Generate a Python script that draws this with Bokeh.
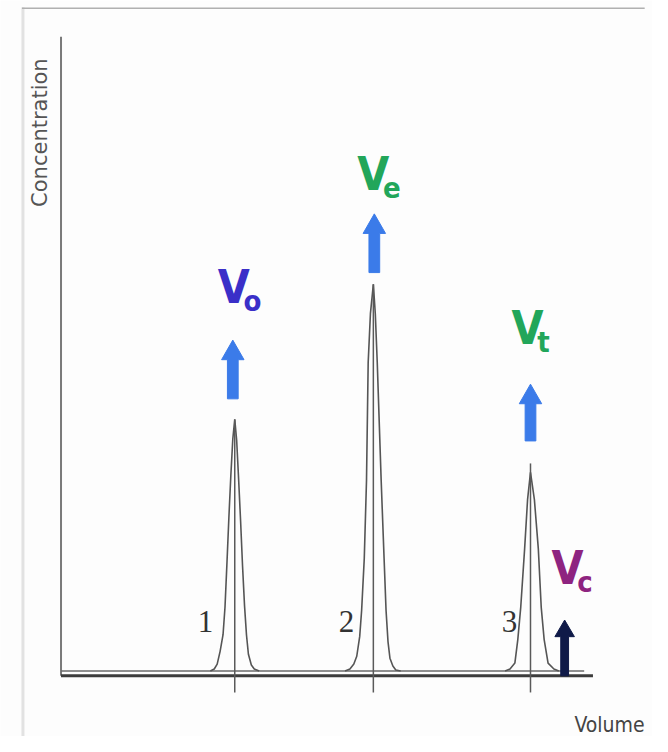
from bokeh.plotting import figure
from bokeh.models import Range1d
from bokeh.embed import file_html
from bokeh.resources import INLINE
from bokeh.core.properties import value

# ---------------- data (arbitrary units: volume, concentration) ----------------
axis_volume_max = 545
axis_conc_max = 653
baseline_level = 5
baseline_end = 536

peak_labels = ["1", "2", "3"]
peak_volume = [178, 320, 481]
peak_height = [262, 400, 212]
peak_label_volume = [148, 292.5, 459.5]
peak_label_conc = [55, 55, 55]

peak1_v = [153, 157, 160, 163, 166, 168, 170, 172, 174, 176, 178, 180, 182, 184, 186, 188, 190, 192, 195, 198, 203]
peak1_c = [5, 7, 12, 25, 42, 70, 115, 162, 205, 242, 262, 240, 200, 158, 112, 72, 42, 22, 11, 7, 5]

peak2_v = [291, 296, 300, 303, 306, 308, 310.7, 313, 314.7, 317, 320, 322, 324, 328, 331, 333, 335, 337, 340, 343, 348]
peak2_c = [5, 7, 12, 20, 40, 67, 120, 200, 320, 370, 400, 370, 320, 200, 120, 67, 35, 18, 10, 6, 5]

peak3_v = [455, 460, 465, 468, 471, 475, 478, 481, 485, 489, 492, 495, 499, 505, 510]
peak3_c = [5, 7, 13, 37, 70, 130, 180, 208, 180, 130, 70, 37, 13, 7, 5]

marker_bottom = -17
marker_top = [262, 400, 217]

arrow_volume = [176, 321, 481]
arrow_base = [283, 412, 240]
arrow_tip = [343, 472, 298]

vc_arrow_volume = 516
vc_arrow_base = 0
vc_arrow_tip = 57

label_main = ["V", "V", "V", "V"]
label_sub = ["o", "e", "t", "c"]
label_volume = [177, 320, 478, 519]
label_conc = [397, 513, 355, 110]
label_colors = ["#3a2fc8", "#22a65a", "#22a65a", "#8e2480"]

x_title = "Volume"
y_title = "Concentration"

NARROW = value("'Liberation Sans Narrow', 'DejaVu Sans Condensed', Roboto, sans-serif")

# ---------------- figure ----------------
p = figure(width=652, height=736, x_range=Range1d(-62, 606), y_range=Range1d(-62, 690),
           output_backend="svg", toolbar_location=None, min_border=0,
           x_axis_location=None, y_axis_location=None)
p.grid.visible = False
p.outline_line_color = None
p.background_fill_color = "#fdfdfd"
p.border_fill_color = "#fdfdfd"

# faint frame of the cropped picture
p.line([-39, -39], [-62, 683], line_color="#e2e2e2", line_width=3)
p.line([-40, 598], [682, 682], line_color="#b0b0b0", line_width=1.5)

# axes
p.line([0, 0], [0, axis_conc_max], line_color="#7a7a7a", line_width=2)
p.line([0, axis_volume_max], [0, 0], line_color="#3c3c3c", line_width=3)

# baseline
p.line([0, baseline_end], [baseline_level, baseline_level], line_color="#6a6a6a", line_width=1.5)

# peaks
for vv, cc in [(peak1_v, peak1_c), (peak2_v, peak2_c), (peak3_v, peak3_c)]:
    p.line(vv, cc, line_color="#555555", line_width=1.6)

# vertical markers through the peaks
p.segment(x0=peak_volume, y0=[marker_bottom] * 3, x1=peak_volume, y1=marker_top,
          line_color="#5a5a5a", line_width=1.5)

# arrows (polygons built through data scales)
head_len, head_half, shaft_half = 20, 11.5, 5.5
xs, ys = [], []
for v, b, t in zip(arrow_volume, arrow_base, arrow_tip):
    hb = t - head_len
    xs.append([v - shaft_half, v + shaft_half, v + shaft_half, v + head_half, v, v - head_half, v - shaft_half])
    ys.append([b, b, hb, hb, t, hb, hb])
p.patches(xs, ys, fill_color="#3b7be9", line_color="#3b7be9", line_width=1)

v, b, t = vc_arrow_volume, vc_arrow_base, vc_arrow_tip
hl, hh, sh = 17, 10, 4
p.patch([v - sh, v + sh, v + sh, v + hh, v, v - hh, v - sh],
        [b, b, t - hl, t - hl, t, t - hl, t - hl],
        fill_color="#0f1a48", line_color="#0f1a48", line_width=1)

# V labels
p.text(x=label_volume, y=label_conc, text=label_main, text_color=label_colors,
       text_font=NARROW, text_font_style="bold",
       text_font_size="46px", text_align="center", text_baseline="alphabetic")
p.text(x=[lv + 10 for lv in label_volume], y=[lc - 14 for lc in label_conc], text=label_sub,
       text_color=label_colors, text_font=NARROW, text_font_style="bold",
       text_font_size="29px", text_align="left", text_baseline="alphabetic")

# peak numbers
p.text(x=peak_label_volume, y=peak_label_conc, text=peak_labels, text_color="#333333",
       text_font=value("Liberation Serif"), text_font_size="31px",
       text_align="center", text_baseline="alphabetic")

# axis titles
p.text(x=[562], y=[-50], text=[x_title], text_color="#444444",
       text_font=NARROW, text_font_size="21px",
       text_align="center", text_baseline="alphabetic")
p.text(x=[-22], y=[555], text=[y_title], text_color="#555555", angle=1.5708,
       text_font=value("DejaVu Sans"), text_font_size="21px",
       text_align="center", text_baseline="middle")

open("out.html", "w").write(file_html(p, INLINE))
